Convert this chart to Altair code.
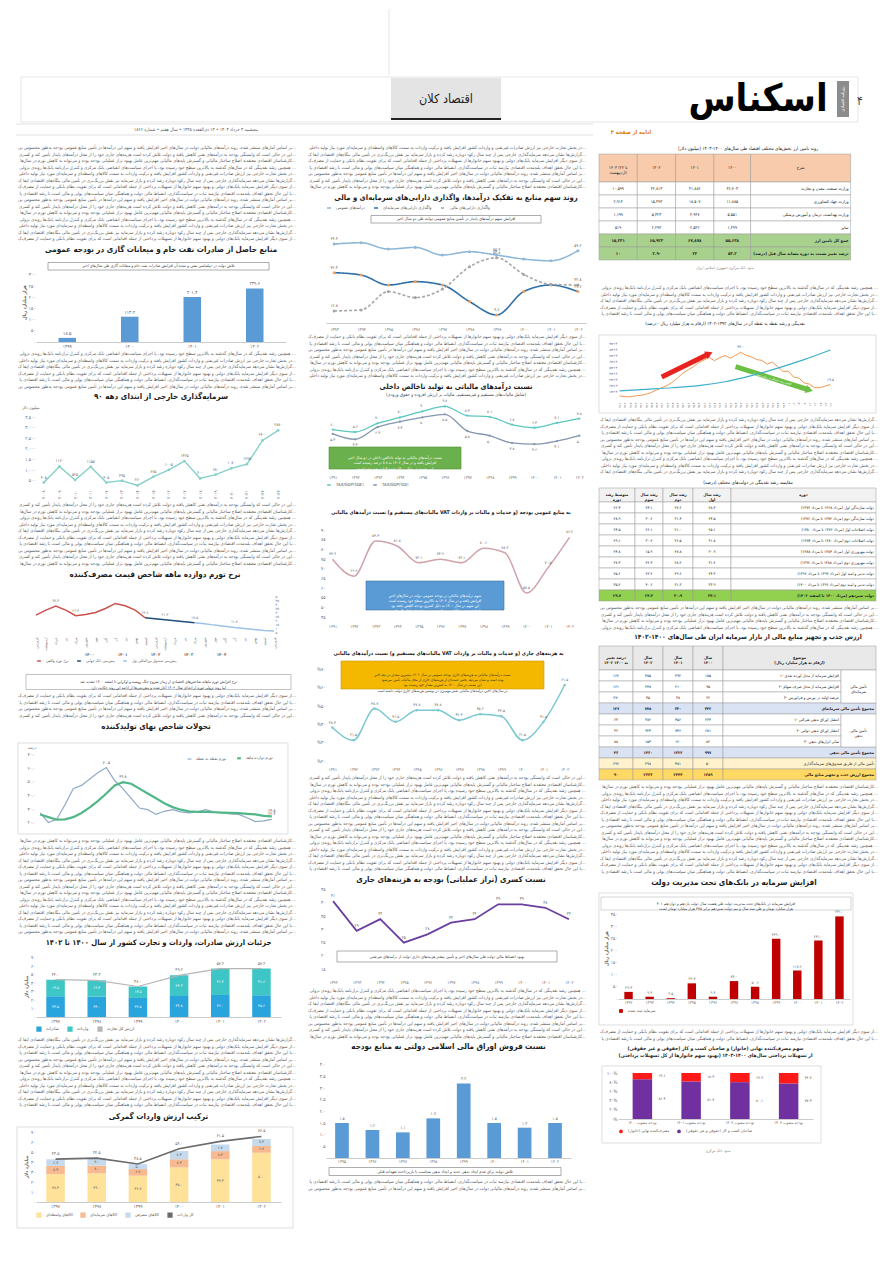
import altair as alt
import pandas as pd

FONT = "DejaVu Sans Condensed, DejaVu Sans"
COLW = 260
ONE = pd.DataFrame({"k": [0]})
_TR = str.maketrans("0123456789", "۰۱۲۳۴۵۶۷۸۹")
IND = dict(color="independent", fill="independent", strokeDash="independent", strokeWidth="independent")


def fa(v, d=None):
    if d is not None:
        v = f"{v:.{d}f}"
    return str(v).translate(_TR)


def fa_expr(e="datum.label"):
    s = e
    for a, b in zip("0123456789", "۰۱۲۳۴۵۶۷۸۹"):
        s = "replace(" + s + ", regexp('" + a + "', 'g'), '" + b + "')"
    return s


FAX = fa_expr()

# ---------------------------------------------------------------- data
FILLER = [
    "بر اساس آمارهای منتشر شده، روند درآمدهای مالیاتی دولت در سال‌های اخیر افزایش یافته و سهم این درآمدها در تأمین منابع عمومی بودجه به‌طور محسوس بیشتر شده است و این موضوع نشانه بهبود ساختار مالی دولت است",
    "این در حالی است که وابستگی بودجه به درآمدهای نفتی کاهش یافته و دولت تلاش کرده است هزینه‌های جاری خود را از محل درآمدهای پایدار تأمین کند و کسری بودجه را در سطحی قابل قبول مهار کند",
    "کارشناسان اقتصادی معتقدند اصلاح ساختار مالیاتی و گسترش پایه‌های مالیاتی مهم‌ترین عامل بهبود تراز عملیاتی بودجه بوده و می‌تواند به کاهش تورم در سال‌های آینده کمک کند و ثبات ایجاد کند",
    "همچنین رشد نقدینگی که در سال‌های گذشته به بالاترین سطح خود رسیده بود، با اجرای سیاست‌های انقباضی بانک مرکزی و کنترل ترازنامه بانک‌ها روندی نزولی به خود گرفته است",
    "در بخش تجارت خارجی نیز ارزش صادرات غیرنفتی و واردات کشور افزایش یافته و ترکیب واردات به سمت کالاهای واسطه‌ای و سرمایه‌ای مورد نیاز تولید داخلی تغییر کرده است",
    "گزارش‌ها نشان می‌دهد سرمایه‌گذاری خارجی پس از چند سال رکود دوباره رشد کرده و بازار سرمایه نیز نقش پررنگ‌تری در تأمین مالی بنگاه‌های اقتصادی ایفا کرده است",
    "از سوی دیگر افزایش سرمایه بانک‌های دولتی و بهبود سهم خانوارها از تسهیلات پرداختی از جمله اقداماتی است که برای تقویت نظام بانکی و حمایت از مصرف‌کننده نهایی انجام شده است",
    "با این حال تحقق اهداف بلندمدت اقتصادی نیازمند ثبات در سیاست‌گذاری، انضباط مالی دولت و هماهنگی میان سیاست‌های پولی و مالی است تا رشد اقتصادی پایدار حاصل شود",
]

l1_years = ["۱۳۹۹", "۱۴۰۰", "۱۴۰۱", "۱۴۰۲"]
l1_vals = [18.5, 113.2, 201.4, 239.6]

l2_years = ["۲۰۰۸", "۲۰۰۹", "۲۰۱۰", "۲۰۱۱", "۲۰۱۲", "۲۰۱۳", "۲۰۱۴", "۲۰۱۵",
            "۲۰۱۶", "۲۰۱۷", "۲۰۱۸", "۲۰۱۹", "۲۰۲۰", "۲۰۲۱", "۲۰۲۲", "۲۰۲۳"]
l2_vals = [405, 1170, 525, 1155, 405, 495, 270, 675, 1005, 1425, 600, 780, 1080, 1275, 2400, 2880]

l3_months = ["فروردین", "اردیبهشت", "خرداد", "تیر", "مرداد", "شهریور",
             "مهر", "آبان", "آذر", "دی", "بهمن", "اسفند"]
L3_S = ["نرخ تورم واقعی", "پیش‌بینی بانک جهانی", "پیش‌بینی صندوق بین‌المللی پول"]
l3_actual = [27.1, 33.3, 38.3, 33.3, 26.3, 27.9, 30.4, 35.4, 41.7, 38.8, 33.3, 23.8]
l3_wb = [23.8, 22.5, 21.3, 20.0, 18.8, 17.5]
l3_imf = [17.5, 16.3, 14.6, 13.3, 11.7, 10.4, 9.2, 7.9, 7.1]
_NB = "\u00a0" * 17
l3_year_row = _NB.join(["۱۴۰۰", "۱۴۰۱", "۱۴۰۲", "۱۴۰۳", "۱۴۰۴"])

L4_S = ["تورم نقطه به نقطه", "تورم دوازده ماهه"]
l4_p2p = [27.1, 20.0, 22.4, 33.1, 45.0, 47.4, 52.1, 56.9, 60.5, 51.0, 45.0, 37.9, 30.7, 29.5, 26.0,
          28.3, 29.5, 27.9, 27.1, 27.9, 29.5, 27.9, 27.1, 26.4, 26.0, 23.6, 20.7, 21.2, 22.4]
l4_avg = [26.0, 24.0, 22.1, 22.4, 24.0, 27.1, 31.2, 36.0, 41.4, 47.4, 49.8, 48.6, 45.0, 41.4, 37.9,
          34.3, 31.4, 29.5, 28.3, 27.9, 27.9, 27.6, 27.4, 27.1, 26.9, 26.4, 26.0, 25.0, 24.5]

L5_S = ["صادرات", "واردات", "ارزش کل تجارت"]
l5_years = ["۱۳۹۷", "۱۳۹۸", "۱۳۹۹", "۱۴۰۰", "۱۴۰۱", "۱۴۰۲"]
l5_exports = [24.5, 24.0, 22.5, 24.8, 26.0, 25.6]
l5_imports = [19.5, 19.3, 13.5, 24.4, 31.2, 31.6]

L6_S = ["کالاهای واسطه‌ای", "کالاهای سرمایه‌ای", "کالاهای مصرفی", "کل واردات"]
l6_years = ["۱۳۹۷", "۱۳۹۸", "۱۳۹۹", "۱۴۰۰", "۱۴۰۱", "۱۴۰۲"]
l6_inter = [28.3, 29.0, 26.7, 35.0, 43.3, 50.0]
l6_capital = [8.3, 8.0, 6.7, 8.3, 8.3, 6.7]
l6_consumer = [6.7, 7.0, 5.0, 8.3, 6.7, 7.3]
l6_total = [43.5, 44.5, 38.5, 54.0, 61.5, 66.5]

M1_S = ["درآمدهای عمومی", "واگذاری دارایی‌های سرمایه‌ای", "واگذاری دارایی‌های مالی"]
m1_years = ["۱۳۹۳", "۱۳۹۴", "۱۳۹۵", "۱۳۹۶", "۱۳۹۷", "۱۳۹۸", "۱۳۹۹", "۱۴۰۰", "۱۴۰۱", "۱۴۰۲"]
m1_rev = [64.4, 65.4, 60.5, 61.8, 55.9, 58.5, 55.9, 52.8, 51.5, 59.2]
m1_cap = [42.3, 40.5, 32.8, 35.4, 32.8, 20.0, 9.7, 27.7, 32.8, 27.7]
m1_fin = [12.8, 13.6, 27.7, 23.1, 29.7, 46.9, 53.8, 41.0, 33.3, 32.8]

M2_S = ["TAX/GDP(SDE)", "TAX/GDP(SDI)"]
m2_years = ["۱۳۹۱", "۱۳۹۲", "۱۳۹۳", "۱۳۹۴", "۱۳۹۵", "۱۳۹۶", "۱۳۹۷", "۱۳۹۸", "۱۳۹۹", "۱۴۰۰", "۱۴۰۱", "۱۴۰۲"]
m2_sde = [6.0, 5.6, 7.0, 8.0, 9.0, 9.8, 8.3, 8.1, 6.8, 6.3, 7.1, 7.8]
m2_sdi = [5.3, 4.4, 6.4, 7.3, 8.0, 8.5, 5.8, 5.0, 3.8, 3.6, 4.1, 5.0]

m3_years = m2_years
m3_vals = [74.9, 66.2, 84.4, 81.8, 73.1, 74.9, 73.1, 80.6, 78.3, 57.5, 70.5, 86.2]

m4_years = m2_years
m4_vals = [38.4, 31.5, 48.7, 41.5, 47.8, 47.8, 42.4, 45.6, 44.5, 31.5, 41.5, 61.5]

m5_years = ["۱۳۹۲", "۱۳۹۳", "۱۳۹۴", "۱۳۹۵", "۱۳۹۶", "۱۳۹۷", "۱۳۹۸", "۱۳۹۹", "۱۴۰۰", "۱۴۰۱", "۱۴۰۲"]
m5_vals = [40.6, 29.4, 33.8, 25.0, 28.1, 32.5, 33.8, 39.4, 39.4, 38.1, 33.8]

m6_years = ["۱۳۹۵", "۱۳۹۶", "۱۳۹۷", "۱۳۹۸", "۱۳۹۹", "۱۴۰۰", "۱۴۰۱", "۱۴۰۲"]
m6_vals = [1.5, 1.2, 1.1, 1.7, 3.2, 1.5, 1.3, 1.5]

r1_header = ["۱۴۰۳ (تا ۲۲\nاردیبهشت)", "۱۴۰۲", "۱۴۰۱", "۱۴۰۰", "شرح"]
r1_rows = ["وزارت صنعت، معدن و تجارت", "وزارت جهاد کشاورزی", "وزارت بهداشت، درمان و آموزش پزشکی",
           "سایر", "جمع کل تامین ارز", "درصد تغییر نسبت به دوره مشابه سال قبل (درصد)"]
r1_1400 = ["۳۶,۷۰۳", "۱۱,۸۸۵", "۵,۵۵۱", "۱,۴۹۹", "۵۵,۶۳۸", "۵۳.۲"]
r1_1401 = ["۴۱,۸۸۲", "۱۸,۵۰۷", "۴,۹۴۷", "۲,۵۴۲", "۶۷,۸۷۸", "۲۲"]
r1_1402 = ["۴۲,۸۱۳", "۱۵,۴۹۳", "۵,۳۲۳", "۲,۲۹۴", "۶۵,۹۲۳", "۲.۹-"]
r1_1403 = ["۱۰,۵۹۹", "۲,۹۱۴", "۱,۱۹۹", "۵۱۹", "۱۵,۲۳۱", "۱۰"]

r2_quarters = [fa(f"{y % 100}-{q}") for y in range(1392, 1403) for q in range(1, 5)][:41]
r2_growth = [11.6, 11.1, 10.9, 11.6, 12.0, 12.7, 13.9, 15.7, 17.3, 18.9, 21.1, 24.1, 27.5, 29.8, 32.0,
             34.8, 36.6, 38.5, 36.2, 38.4, 39.8, 38.0, 40.0, 42.0, 40.0, 38.9, 37.0, 36.4, 33.9, 35.2,
             32.0, 28.7, 28.9, 24.8, 24.1, 20.7, 19.8, 17.4, 17.3, 18.4, 19.5]
r2_liq_idx = [0, 5, 10, 15, 20, 25, 30, 35, 40]
r2_liq = [11200, 13700, 16300, 19800, 26400, 36600, 49300, 63600, 79800]
r2_red_idx = [8, 17]
r2_red_v = [24.8, 41.1]
r2_green_idx = [22, 36]
r2_green_v = [32.0, 15.7]

r3_header = ["متوسط رشد\nدوره", "رشد سال\nسوم", "رشد سال\nدوم", "رشد سال\nاول", "دوره"]
r3_rows = ["دولت سازندگی اول (مرداد ۱۳۶۸ تا مرداد ۱۳۷۲)", "دولت سازندگی دوم (مرداد ۱۳۷۲ تا مرداد ۱۳۷۶)",
           "دولت اصلاحات اول (مرداد ۱۳۷۶ تا مرداد ۱۳۸۰)", "دولت اصلاحات دوم (مرداد ۱۳۸۰ تا مرداد ۱۳۸۴)",
           "دولت مهرورزی اول (مرداد ۱۳۸۴ تا مرداد ۱۳۸۸)", "دولت مهرورزی دوم (مرداد ۱۳۸۸ تا مرداد ۱۳۹۲)",
           "دولت تدبیر و امید اول (مرداد ۱۳۹۲ تا مرداد ۱۳۹۶)", "دولت تدبیر و امید دوم (مرداد ۱۳۹۶ تا مرداد ۱۴۰۰)",
           "دولت سیزدهم (مرداد ۱۴۰۰ تا اسفند ۱۴۰۲)"]
r3_avg = [26.4, 28.9, 24.5, 29.1, 24.8, 27.3, 25.6, 35.2, 29.7]
r3_c3 = [24.1, 30.6, 26.1, 30.2, 15.9, 22.3, 23.2, 40.6, 24.3]
r3_c2 = [27.6, 31.4, 21.0, 26.5, 27.8, 28.2, 29.6, 31.3, 30.9]
r3_c1 = [28.3, 24.5, 25.1, 31.8, 30.9, 31.2, 24.3, 33.9, 34.1]

r4_header = ["درصد تغییر\n۱۴۰۲ به ۱۴۰۰", "سال\n۱۴۰۲", "سال\n۱۴۰۱", "سال\n۱۴۰۰", "موضوع\n(ارقام به هزار میلیارد ریال)"]
r4_rows = ["۱- افزایش سرمایه از محل آورده نقدی", "۲- افزایش سرمایه از محل صرف سهام", "۳- عرضه اولیه در بورس و فرابورس",
           "مجموع تأمین مالی سرمایه‌ای",
           "۱- انتشار اوراق بدهی شرکتی", "۲- انتشار اوراق بدهی دولتی", "۳- سایر ابزارهای بدهی",
           "مجموع تأمین مالی بدهی",
           "تأمین مالی از طریق صندوق‌های سرمایه‌گذاری", "مجموع ارزش جذب و تجهیز منابع مالی"]
r4_1400 = [185, 95, 62, 342, 234, 681, 82, 997, 50, 1389]
r4_1401 = [392, 210, 38, 640, 456, 746, 120, 1322, 481, 2443]
r4_1402 = [485, 248, 45, 778, 382, 924, 154, 1460, 398, 2636]
r4_chg = [162, 161, -27, 127, 63, 36, 88, 46, 696, 90]
r4_groups = ["تأمین مالی\nسرمایه‌ای", "تأمین مالی\nبدهی"]

r5_years = ["۱۳۹۲", "۱۳۹۳", "۱۳۹۴", "۱۳۹۵", "۱۳۹۶", "۱۳۹۷", "۱۳۹۸", "۱۳۹۹", "۱۴۰۰", "۱۴۰۱", "۱۴۰۲"]
r5_vals = [29.4, 9.4, 3.5, 64.7, 9.4, 74.0, 50.6, 249.0, 117.6, 241.0, 341.0]

R6_S = ["مصرف‌کننده نهایی (خانوار)", "صاحبان کسب و کار (حقوقی و غیر حقوقی)"]
r6_labels = ["بودجه مصوب ۱۴۰۰", "بودجه مصوب ۱۴۰۱", "بودجه مصوب ۱۴۰۲", "بودجه مصوب ۱۴۰۳"]
r6_household = [13.6, 18.3, 19.9, 22.7]
r6_business = [86.4, 81.7, 80.1, 77.3]


# ---------------------------------------------------------------- helpers
def T(text, size=8.0, sub=None, weight="bold", offset=3, limit=262):
    kw = dict(text=text, font=FONT, fontSize=size, fontWeight=weight, color="#1b1b1b",
              offset=offset, anchor="middle", limit=limit)
    if sub:
        kw.update(subtitle=sub, subtitleFont=FONT, subtitleFontSize=4.6,
                  subtitleColor="#444", subtitlePadding=1)
    return alt.TitleParams(**kw)


def box(x0, x1, y0, y1, text, fill="white", stroke="#777", color="#333", size=4.4, lh=5.6, weight="normal"):
    r = alt.Chart(ONE).mark_rect(fill=fill, stroke=stroke, strokeWidth=0.6).encode(
        x=alt.value(x0), x2=alt.value(x1), y=alt.value(y0), y2=alt.value(y1))
    t = alt.Chart(ONE).mark_text(font=FONT, fontSize=size, color=color, lineBreak="\n", lineHeight=lh,
                                 baseline="middle", fontWeight=weight, limit=abs(x1 - x0) - 2).encode(
        x=alt.value((x0 + x1) / 2), y=alt.value((y0 + y1) / 2), text=alt.value(text))
    return [r, t]


def frame(x0, x1, y0, y1, stroke="#d0d0d0"):
    return alt.Chart(ONE).mark_rect(fillOpacity=0, stroke=stroke, strokeWidth=0.7).encode(
        x=alt.value(x0), x2=alt.value(x1), y=alt.value(y0), y2=alt.value(y1))


def text_block(n, start=0, lh=6.5, size=4.6, color="#5a5a5a", w=COLW):
    df = pd.DataFrame({"i": list(range(n)), "t": [FILLER[(start + k) % len(FILLER)] for k in range(n)]})
    return alt.Chart(df).mark_text(align="right", baseline="middle", font=FONT, fontSize=size, color=color,
                                   limit=w + 18, ellipsis="").encode(
        x=alt.value(w),
        y=alt.Y("i:Q", scale=alt.Scale(domain=[-0.5, n - 0.5], reverse=True, nice=False, zero=False), axis=None),
        text="t:N").properties(width=w, height=n * lh)


def spacer(h, w=COLW):
    return alt.Chart(ONE).mark_point(opacity=0, size=1).encode(
        x=alt.value(0), y=alt.value(0)).properties(width=w, height=h)


def line_panel(text, h=7, size=4.5, color="#666", xv=120, w=COLW, weight="normal"):
    return alt.Chart(ONE).mark_text(font=FONT, fontSize=size, color=color, baseline="middle",
                                    fontWeight=weight).encode(
        x=alt.value(xv), y=alt.value(h / 2), text=alt.value(text)).properties(width=w, height=h)


def box_panel(text, h, x0, x1, w=COLW, **kw):
    return alt.layer(*box(x0, x1, 0.5, h - 0.5, text, **kw)).properties(width=w, height=h)


def make_table(cells, widths, heights, fsize=4.4, line="#9a9a9a", title=None, x_off=19, W=COLW):
    xs = [0]
    for w in widths:
        xs.append(xs[-1] + w)
    ys = [0]
    for h in heights:
        ys.append(ys[-1] + h)
    recs = []
    for (c0, c1, r0, r1, t, f, k, b) in cells:
        x0, x1, y0, y1 = xs[c0], xs[c1], ys[r0], ys[r1]
        recs.append(dict(x0=x0, x1=x1, y0=y0, y1=y1, xc=(x0 + x1) / 2, xr=x1 - 2, yc=(y0 + y1) / 2,
                         t=t, f=f, k=k, b=b))
    df = pd.DataFrame(recs)
    H = ys[-1]
    xsc = alt.Scale(domain=[x_off, x_off + W], nice=False, zero=False)
    ysc = alt.Scale(domain=[0, H], nice=False, zero=False, reverse=True)
    rect = alt.Chart(df).mark_rect(stroke=line, strokeWidth=0.5).encode(
        x=alt.X("x0:Q", scale=xsc, axis=None), x2="x1:Q",
        y=alt.Y("y0:Q", scale=ysc, axis=None), y2="y1:Q",
        fill=alt.Fill("f:N", scale=None))
    layers = [rect]
    for k, al, xf in (("n", "center", "xc"), ("d", "right", "xr")):
        for b in (False, True):
            sub = df[(df.k == k) & (df.b == b)]
            if len(sub) == 0:
                continue
            layers.append(alt.Chart(sub).mark_text(
                align=al, baseline="middle", font=FONT, fontSize=fsize,
                fontWeight="bold" if b else "normal", color="#222", lineBreak="\n", lineHeight=fsize + 1).encode(
                x=alt.X(xf + ":Q", scale=xsc, axis=None), y=alt.Y("yc:Q", scale=ysc, axis=None), text="t:N"))
    ch = alt.layer(*layers).properties(width=W, height=H)
    if title is not None:
        ch = ch.properties(title=title)
    return ch


# ---------------------------------------------------------------- header (x values: page x - 35)
def header():
    W, H = 830, 128
    c = alt.Chart(ONE)
    L = [
        c.mark_rule(color="#e4e4e4", strokeWidth=1).encode(x=alt.value(353), y=alt.value(0), y2=alt.value(66)),
        c.mark_rect(fillOpacity=0, stroke="#dedede", strokeWidth=0.8).encode(
            x=alt.value(-15), x2=alt.value(822), y=alt.value(68), y2=alt.value(113)),
        c.mark_rect(color="#e4e4e4").encode(x=alt.value(355), x2=alt.value(465), y=alt.value(69), y2=alt.value(110)),
        c.mark_rule(color="#222", strokeWidth=2).encode(x=alt.value(355), x2=alt.value(465), y=alt.value(110)),
        c.mark_text(font=FONT, fontSize=12.5, color="#222").encode(
            x=alt.value(410), y=alt.value(90), text=alt.value("اقتصاد کلان")),
        c.mark_text(font=FONT, fontSize=38, fontWeight="bold", color="#000").encode(
            x=alt.value(722), y=alt.value(91), text=alt.value("اسکناس")),
        c.mark_rect(color="#8c8c8c").encode(x=alt.value(801), x2=alt.value(813), y=alt.value(72), y2=alt.value(108)),
        c.mark_text(font=FONT, fontSize=4, color="white", angle=270).encode(
            x=alt.value(807), y=alt.value(90), text=alt.value("روزنامه اقتصادی")),
        c.mark_text(font=FONT, fontSize=12, color="#444").encode(
            x=alt.value(824), y=alt.value(92), text=alt.value("۴")),
        c.mark_rule(color="#cfcfcf", strokeWidth=0.6).encode(x=alt.value(-20), x2=alt.value(557), y=alt.value(115)),
        c.mark_rule(color="#cfcfcf", strokeWidth=0.6).encode(x=alt.value(-20), x2=alt.value(557), y=alt.value(126)),
        c.mark_text(font=FONT, fontSize=4.6, color="#555").encode(
            x=alt.value(160), y=alt.value(120.5),
            text=alt.value("پنجشنبه ۳ خرداد ۱۴۰۳  •  ۱۴ ذی‌القعده ۱۴۴۵  •  سال هفتم  •  شماره ۱۸۶۶")),
        c.mark_text(font=FONT, fontSize=5.6, fontWeight="bold", color="#e07b0a").encode(
            x=alt.value(595), y=alt.value(123), text=alt.value("ادامه از صفحه ۳")),
    ]
    return alt.layer(*L).properties(width=W, height=H)


# ---------------------------------------------------------------- left column charts
def chart_l1():
    W, H = 250, 80
    df = pd.DataFrame({"y": l1_years, "v": l1_vals, "lab": [fa(v, 1) for v in l1_vals]})
    x = alt.X("y:N", sort=None, title=None, scale=alt.Scale(paddingInner=0.72, paddingOuter=0.36),
              axis=alt.Axis(labelAngle=0, ticks=False, domainColor="#ccc"))
    ysc = alt.Scale(domain=[0, 358], nice=False)
    ax = alt.Axis(values=[0, 50, 100, 150, 200, 250, 300], labelExpr=FAX, domain=False, ticks=False)
    bars = alt.Chart(df).mark_bar(color="#5b9bd5").encode(
        x=x, y=alt.Y("v:Q", scale=ysc, axis=ax, title="هزار میلیارد ریال"))
    labs = alt.Chart(df).mark_text(dy=-4, font=FONT, fontSize=4.8, color="#555").encode(
        x=x, y=alt.Y("v:Q", scale=ysc, axis=ax, title="هزار میلیارد ریال"), text="lab:N")
    layers = [bars, labs] + box(12, 233, 0.5, 8, "تلاش دولت در دیپلماسی نفتی و نتیجه آن افزایش صادرات نفت خام و میعانات گازی طی سال‌های اخیر", size=4.0)
    return alt.layer(*layers).properties(
        width=W, height=H, title=T("منابع حاصل از صادرات نفت خام و میعانات گازی در بودجه عمومی", offset=8))


def chart_l2():
    W, H = 250, 76
    df = pd.DataFrame({"y": l2_years, "v": l2_vals, "lab": [fa(v) for v in l2_vals]})
    x = alt.X("y:N", sort=None, title=None, scale=alt.Scale(padding=0.5),
              axis=alt.Axis(labelAngle=270, ticks=False, domain=False, labelFontSize=4.3))
    ysc = alt.Scale(domain=[100, 3700], nice=False, zero=False)
    ax = alt.Axis(values=[500, 1000, 1500, 2000, 2500, 3000, 3500], labelExpr=FAX, domain=False, ticks=False)
    line = alt.Chart(df).mark_line(color="#86d0c8", strokeWidth=1.4,
                                   point=alt.OverlayMarkDef(color="#86d0c8", size=7, filled=True)).encode(
        x=x, y=alt.Y("v:Q", scale=ysc, axis=ax, title=None))
    labs = alt.Chart(df).mark_text(dy=-5, font=FONT, fontSize=4.2, color="#666").encode(
        x=x, y=alt.Y("v:Q", scale=ysc, axis=ax, title=None), text="lab:N")
    unit = alt.Chart(ONE).mark_text(font=FONT, fontSize=4.3, color="#666", align="left").encode(
        x=alt.value(-14), y=alt.value(-5), text=alt.value("میلیون دلار"))
    return alt.layer(line, labs, unit).properties(
        width=W, height=H, title=T("سرمایه‌گذاری خارجی از ابتدای دهه ۹۰", offset=5))


def chart_l3():
    W, H = 238, 40
    rows = []
    for i, v in enumerate(l3_actual):
        rows.append({"i": i, "v": v, "s": L3_S[0]})
    for k, v in enumerate(l3_wb):
        rows.append({"i": 11 + k, "v": v, "s": L3_S[1]})
    for k, v in enumerate(l3_imf):
        rows.append({"i": 16 + k, "v": v, "s": L3_S[2]})
    df = pd.DataFrame(rows)
    df["lab"] = df.v.map(lambda v: fa(v, 1))
    month_expr = "[" + ",".join("'" + m + "'" for m in l3_months) + "][datum.value % 12]"
    x = alt.X("i:Q", scale=alt.Scale(domain=[0, 24], nice=False),
              axis=alt.Axis(values=list(range(25)), labelExpr=month_expr, labelAngle=270, labelFontSize=3.6,
                            title=l3_year_row, titleFontSize=4.4, titlePadding=2, grid=False, ticks=False, domain=False))
    ysc = alt.Scale(domain=[1, 51], nice=False, zero=False)
    ax = alt.Axis(orient="right", values=list(range(5, 51, 5)), labelExpr=FAX, domain=False, ticks=False,
                  labelFontSize=3.6)
    col = alt.Color("s:N", scale=alt.Scale(domain=L3_S, range=["#c9504c", "#1f4e79", "#9dc3e6"]),
                    legend=alt.Legend(orient="bottom", title=None, symbolType="stroke", labelFontSize=3.8,
                                      symbolSize=14, direction="horizontal", offset=2, columnPadding=5))
    lines = alt.Chart(df).mark_line(strokeWidth=1.5).encode(
        x=x, y=alt.Y("v:Q", scale=ysc, axis=ax, title=None), color=col)
    sel = df[df.i.isin([2, 4, 11, 13, 16, 20])].drop_duplicates("i")
    labs = alt.Chart(sel).mark_text(dy=-5, font=FONT, fontSize=3.8, color="#666").encode(
        x=x, y=alt.Y("v:Q", scale=ysc, axis=ax, title=None), text="lab:N")
    return alt.layer(lines, labs).properties(
        width=W, height=H, title=T("نرخ تورم دوازده ماهه شاخص قیمت مصرف‌کننده", offset=16))


def chart_l4():
    W, H = 240, 76
    n = len(l4_p2p)
    df = pd.DataFrame({"i": list(range(n)) * 2, "v": l4_p2p + l4_avg, "s": [L4_S[0]] * n + [L4_S[1]] * n})
    df["lab"] = df.v.map(lambda v: fa(v, 1))
    x = alt.X("i:Q", scale=alt.Scale(domain=[-0.5, n - 0.5], nice=False), axis=None)
    ysc = alt.Scale(domain=[16, 72], nice=False, zero=False)
    ax = alt.Axis(values=[20, 30, 40, 50, 60, 70], format=".1f", labelExpr=FAX, ticks=False, domain=False,
                  grid=False)
    col = alt.Color("s:N", scale=alt.Scale(domain=L4_S, range=["#8fa9c6", "#52b788"]),
                    legend=alt.Legend(orient="top-right", title=None, symbolType="stroke", labelFontSize=4.2,
                                      direction="horizontal", symbolSize=14, offset=3))
    sw = alt.StrokeWidth("s:N", scale=alt.Scale(domain=L4_S, range=[1.2, 2.2]), legend=None)
    lines = alt.Chart(df).mark_line().encode(
        x=x, y=alt.Y("v:Q", scale=ysc, axis=ax, title=None), color=col, strokeWidth=sw)
    sel = pd.concat([df[(df.s == L4_S[0]) & df.i.isin([8, 28])], df[(df.s == L4_S[1]) & df.i.isin([10, 28])]])
    labs = alt.Chart(sel).mark_text(dy=-5, font=FONT, fontSize=4.2, color="#555").encode(
        x=x, y=alt.Y("v:Q", scale=ysc, axis=ax, title=None), text="lab:N")
    unit = alt.Chart(ONE).mark_text(font=FONT, fontSize=4.2, color="#666").encode(
        x=alt.value(-4), y=alt.value(-4), text=alt.value("درصد"))
    return alt.layer(frame(-18, W + 12, -9, H + 6), lines, labs, unit).properties(
        width=W, height=H, title=T("تحولات شاخص بهای تولیدکننده", offset=12))


def chart_l5():
    W, H = 245, 61
    rows = []
    for yr, e, m in zip(l5_years, l5_exports, l5_imports):
        rows.append(dict(y=yr, s=L5_S[0], v=e, o=0, mid=e / 2, t=fa(e, 1)))
        rows.append(dict(y=yr, s=L5_S[1], v=m, o=1, mid=e + m / 2, t=fa(m, 1)))
    df = pd.DataFrame(rows)
    tot = pd.DataFrame({"y": l5_years, "v": [e + m for e, m in zip(l5_exports, l5_imports)], "s": L5_S[2]})
    tot["t"] = tot.v.map(lambda v: fa(v, 1))
    x = alt.X("y:N", sort=None, title=None, scale=alt.Scale(paddingInner=0.55, paddingOuter=0.25),
              axis=alt.Axis(labelAngle=0, ticks=False, domainColor="#ccc"))
    ysc = alt.Scale(domain=[0, 72], nice=False)
    ax = alt.Axis(values=list(range(0, 71, 10)), labelExpr=FAX, ticks=False, domain=False)
    tt = "میلیارد دلار"
    col = alt.Color("s:N", scale=alt.Scale(domain=L5_S, range=["#2aa4dc", "#3ec5c6", "#b5b5b5"]),
                    legend=alt.Legend(orient="bottom", title=None, labelFontSize=4.3, symbolSize=14,
                                      direction="horizontal", offset=3))
    bars = alt.Chart(df).mark_bar().encode(
        x=x, y=alt.Y("v:Q", stack="zero", scale=ysc, axis=ax, title=tt), color=col, order=alt.Order("o:Q"))
    segt = alt.Chart(df).mark_text(font=FONT, fontSize=4.0, color="white").encode(
        x=x, y=alt.Y("mid:Q", scale=ysc, axis=ax, title=tt), text="t:N")
    line = alt.Chart(tot).mark_line(strokeWidth=1.2).encode(
        x=x, y=alt.Y("v:Q", scale=ysc, axis=ax, title=tt), color=col)
    tott = alt.Chart(tot).mark_text(font=FONT, fontSize=4.4, color="#555", dy=-5).encode(
        x=x, y=alt.Y("v:Q", scale=ysc, axis=ax, title=tt), text="t:N")
    return alt.layer(bars, segt, line, tott).properties(
        width=W, height=H, title=T("جزئیات ارزش صادرات، واردات و تجارت کشور از سال ۱۴۰۰ تا ۱۴۰۲", size=7.6, offset=8))


def chart_l6():
    W, H = 245, 71
    rows = []
    for yr, a, b, c in zip(l6_years, l6_inter, l6_capital, l6_consumer):
        rows.append(dict(y=yr, s=L6_S[0], v=a, o=0, mid=a / 2, t=fa(a, 1)))
        rows.append(dict(y=yr, s=L6_S[1], v=b, o=1, mid=a + b / 2, t=fa(b, 1)))
        rows.append(dict(y=yr, s=L6_S[2], v=c, o=2, mid=a + b + c / 2, t=fa(c, 1)))
    df = pd.DataFrame(rows)
    tot = pd.DataFrame({"y": l6_years, "v": l6_total, "s": L6_S[3]})
    tot["t"] = tot.v.map(lambda v: fa(v, 1))
    x = alt.X("y:N", sort=None, title=None, scale=alt.Scale(paddingInner=0.55, paddingOuter=0.25),
              axis=alt.Axis(labelAngle=0, ticks=False, domainColor="#ccc"))
    ysc = alt.Scale(domain=[0, 72], nice=False)
    ax = alt.Axis(values=list(range(0, 71, 10)), labelExpr=FAX, ticks=False, domain=False)
    tt = "میلیارد دلار"
    col = alt.Color("s:N", scale=alt.Scale(domain=L6_S, range=["#ffe29a", "#f7b98f", "#c6daee", "#6b6b6b"]),
                    legend=alt.Legend(orient="bottom", title=None, labelFontSize=4.1, symbolSize=14,
                                      direction="horizontal", offset=4, columnPadding=5))
    bars = alt.Chart(df).mark_bar().encode(
        x=x, y=alt.Y("v:Q", stack="zero", scale=ysc, axis=ax, title=tt), color=col, order=alt.Order("o:Q"))
    segt = alt.Chart(df).mark_text(font=FONT, fontSize=4.0, color="#555").encode(
        x=x, y=alt.Y("mid:Q", scale=ysc, axis=ax, title=tt), text="t:N")
    line = alt.Chart(tot).mark_line(strokeWidth=1.6).encode(
        x=x, y=alt.Y("v:Q", scale=ysc, axis=ax, title=tt), color=col)
    tott = alt.Chart(tot).mark_text(font=FONT, fontSize=4.4, color="#555", dy=-5).encode(
        x=x, y=alt.Y("v:Q", scale=ysc, axis=ax, title=tt), text="t:N")
    return alt.layer(frame(-19, W + 12, -4, H + 26), bars, segt, line, tott).properties(
        width=W, height=H, title=T("ترکیب ارزش واردات گمرکی", offset=6))


# ---------------------------------------------------------------- middle column charts
def chart_m1():
    W, H = 260, 108
    df = pd.DataFrame({"year": m1_years * 3, "v": m1_rev + m1_cap + m1_fin,
                       "s": [M1_S[0]] * 10 + [M1_S[1]] * 10 + [M1_S[2]] * 10})
    df["lab"] = df.v.map(lambda v: fa(v, 1))
    x = alt.X("year:N", sort=None, title=None, scale=alt.Scale(padding=0.3),
              axis=alt.Axis(labelAngle=0, ticks=False, domainColor="#c8c8c8", labelFontSize=4.4, labelPadding=4))
    y = alt.Y("v:Q", scale=alt.Scale(domain=[3.5, 86.8], nice=False, zero=False), axis=None)
    col = alt.Color("s:N", scale=alt.Scale(domain=M1_S, range=["#8fb8d8", "#2f6fa8", "#a6a6a6"]),
                    legend=alt.Legend(orient="top", title=None, symbolType="stroke", direction="horizontal",
                                      labelFontSize=4.4, symbolSize=16, offset=4))
    dash = alt.StrokeDash("s:N", scale=alt.Scale(domain=M1_S, range=[[1, 0], [1, 0], [3, 2]]), legend=None)
    lines = alt.Chart(df).mark_line(strokeWidth=1.6, interpolate="monotone").encode(
        x=x, y=y, color=col, strokeDash=dash)
    pts = alt.Chart(df).mark_point(filled=True, size=9, opacity=1).encode(
        x=x, y=y, fill=alt.Fill("s:N", scale=alt.Scale(domain=M1_S, range=["#8fb8d8", "#f0a060", "#a6a6a6"]),
                                legend=None))
    sel = df[df.year.isin([m1_years[0], m1_years[6], m1_years[9]])]
    labs = alt.Chart(sel).mark_text(dy=-5, font=FONT, fontSize=4.2, color="#555").encode(x=x, y=y, text="lab:N")
    layers = [lines, pts, labs] + box(45, 215, 0.5, 8, "افزایش سهم درآمدهای پایدار در تأمین منابع عمومی دولت طی دو سال اخیر", size=4.2)
    return alt.layer(*layers).properties(
        width=W, height=H, title=T("روند سهم منابع به تفکیک درآمدها، واگذاری دارایی‌های سرمایه‌ای و مالی", size=7.6, limit=270))


def chart_m2():
    W, H = 260, 70
    df = pd.DataFrame({"year": m2_years * 2, "v": m2_sde + m2_sdi, "s": [M2_S[0]] * 12 + [M2_S[1]] * 12})
    df["lab"] = df.v.map(lambda v: fa(v, 1))
    x = alt.X("year:N", sort=None, title=None, scale=alt.Scale(padding=0.3),
              axis=alt.Axis(labelAngle=0, ticks=False, domain=False, labelFontSize=4.3))
    y = alt.Y("v:Q", scale=alt.Scale(domain=[-1.3, 10.2], nice=False, zero=False), axis=None)
    col = alt.Color("s:N", scale=alt.Scale(domain=M2_S, range=["#5cc6c0", "#8496b0"]),
                    legend=alt.Legend(orient="bottom", title=None, symbolType="stroke", direction="horizontal",
                                      labelFontSize=4.3, symbolSize=14, offset=2))
    lines = alt.Chart(df).mark_line(strokeWidth=1.3, interpolate="monotone",
                                    point=alt.OverlayMarkDef(size=5, filled=True)).encode(x=x, y=y, color=col)
    lab1 = alt.Chart(df[df.s == M2_S[0]]).mark_text(dy=-5, font=FONT, fontSize=4.0, color="#555").encode(
        x=x, y=y, text="lab:N")
    lab2 = alt.Chart(df[df.s == M2_S[1]]).mark_text(dy=6, font=FONT, fontSize=4.0, color="#555").encode(
        x=x, y=y, text="lab:N")
    layers = [lines, lab1, lab2] + box(
        3, 135, 43, 65,
        "نسبت درآمدهای مالیاتی به تولید ناخالص داخلی در دو سال اخیر\nافزایش یافته و در سال ۱۴۰۲ به ۷.۸ درصد رسیده است\nاین نسبت در سال ۱۴۰۰ حدود ۶.۳ درصد بوده است",
        fill="#6ab04c", stroke="#4f8f35", color="white", size=4.0, lh=5.4)
    return alt.layer(*layers).properties(
        width=W, height=H, title=T("نسبت درآمدهای مالیاتی به تولید ناخالص داخلی", size=7.4,
                                   sub="(شامل مالیات‌های مستقیم و غیرمستقیم، مالیات بر ارزش افزوده و حقوق ورودی)"))


def chart_m3():
    W, H = 250, 96
    df = pd.DataFrame({"year": m3_years, "v": m3_vals, "lab": [fa(v, 1) for v in m3_vals]})
    x = alt.X("year:N", sort=None, title=None, scale=alt.Scale(padding=0.3),
              axis=alt.Axis(labelAngle=0, ticks=False, domain=False, labelFontSize=4.3))
    ysc = alt.Scale(domain=[42.0, 91.6], nice=False, zero=False)
    ax = alt.Axis(values=list(range(45, 91, 5)), labelExpr=FAX, ticks=False, domain=False)
    line = alt.Chart(df).mark_line(color="#cfa3aa", strokeWidth=1.5, interpolate="monotone").encode(
        x=x, y=alt.Y("v:Q", scale=ysc, axis=ax, title=None))
    labs = alt.Chart(df).mark_text(dy=-5, font=FONT, fontSize=4.1, color="#666").encode(
        x=x, y=alt.Y("v:Q", scale=ysc, axis=ax, title=None), text="lab:N")
    layers = [line, labs] + box(
        40, 178, 54, 83,
        "سهم درآمدهای مالیاتی در بودجه عمومی دولت در سال‌های اخیر\nافزایش یافته و در سال ۱۴۰۲ به بالاترین سطح خود رسیده است\nاین سهم در سال ۱۴۰۰ به دلیل کسری بودجه کاهش یافته بود\nافزایش سهم مالیات در منابع عمومی نشانه انضباط مالی است",
        fill="#5b9bd5", stroke="#41719c", color="white", size=3.9, lh=5.2)
    return alt.layer(*layers).properties(
        width=W, height=H,
        title=T("نسبت درآمدهای مالیاتی (مالیات‌های مستقیم و VAT و خدمات و مالیات بر واردات) به منابع عمومی بودجه",
                size=5.2, offset=12))


def chart_m4():
    W, H = 245, 106
    df = pd.DataFrame({"year": m4_years, "v": m4_vals, "lab": [fa(v, 1) for v in m4_vals]})
    x = alt.X("year:N", sort=None, title=None, scale=alt.Scale(padding=0.3),
              axis=alt.Axis(labelAngle=0, ticks=False, domain=False, labelFontSize=4.3))
    ysc = alt.Scale(domain=[17.5, 75.1], nice=False, zero=False)
    ax = alt.Axis(values=list(range(20, 71, 10)), labelExpr=fa_expr("'%' + datum.label"), ticks=False, domain=False)
    line = alt.Chart(df).mark_line(color="#7cc8d0", strokeWidth=1.5, interpolate="monotone",
                                   point=alt.OverlayMarkDef(color="#7cc8d0", size=6, filled=True)).encode(
        x=x, y=alt.Y("v:Q", scale=ysc, axis=ax, title=None))
    labs = alt.Chart(df).mark_text(dy=-5, font=FONT, fontSize=4.1, color="#666").encode(
        x=x, y=alt.Y("v:Q", scale=ysc, axis=ax, title=None), text="lab:N")
    layers = [line, labs] + box(
        15, 218, 1, 29,
        "نسبت درآمدهای مالیاتی به هزینه‌های جاری بودجه عمومی در سال ۱۴۰۲ بیشترین مقدار در دهه اخیر\nبوده است و نشان می‌دهد بخش عمده‌ای از هزینه‌های جاری از محل مالیات تأمین می‌شود\nاین نسبت در سال ۱۴۰۰ به کمترین مقدار خود رسیده بود\nدر سال‌های اخیر، درآمدهای مالیاتی نقش مهم‌تری در پوشش هزینه‌های جاری دولت داشته است",
        fill="#f5b800", stroke="#c99700", color="#333", size=3.7, lh=5.2)
    return alt.layer(*layers).properties(
        width=W, height=H,
        title=T("نسبت درآمدهای مالیاتی (مالیات‌های مستقیم و VAT و خدمات و مالیات بر واردات) به هزینه‌های جاری",
                size=5.2, offset=4))


def chart_m5():
    W, H = 250, 93
    df = pd.DataFrame({"year": m5_years, "v": m5_vals, "lab": [fa(round(v)) for v in m5_vals]})
    x = alt.X("year:N", sort=None, title=None, scale=alt.Scale(padding=0.3),
              axis=alt.Axis(labelAngle=0, ticks=False, domain=False, labelFontSize=4.3))
    ysc = alt.Scale(domain=[11.3, 46.3], nice=False, zero=False)
    ax = alt.Axis(values=list(range(15, 46, 5)), labelExpr=FAX, ticks=False, domain=False)
    line = alt.Chart(df).mark_line(color="#6b3fa0", strokeWidth=1.8).encode(
        x=x, y=alt.Y("v:Q", scale=ysc, axis=ax, title=None))
    labs = alt.Chart(df).mark_text(dy=-5, font=FONT, fontSize=4.3, color="#555").encode(
        x=x, y=alt.Y("v:Q", scale=ysc, axis=ax, title=None), text="lab:N")
    layers = [line, labs] + box(
        11, 231, 65, 76, "بهبود انضباط مالی دولت طی سال‌های اخیر و تأمین بیشتر هزینه‌های جاری دولت از درآمدهای غیرنفتی",
        size=4.1)
    return alt.layer(*layers).properties(
        width=W, height=H, title=T("نسبت کسری (تراز عملیاتی) بودجه به هزینه‌های جاری", offset=2))


def chart_m6():
    W, H = 245, 97
    df = pd.DataFrame({"year": m6_years, "v": m6_vals, "lab": [fa(v, 1) for v in m6_vals]})
    x = alt.X("year:N", sort=None, title=None, scale=alt.Scale(paddingInner=0.55, paddingOuter=0.3),
              axis=alt.Axis(labelAngle=0, ticks=False, domainColor="#ccc", labelFontSize=4.3))
    ysc = alt.Scale(domain=[0, 4.16], nice=False)
    ax = alt.Axis(values=[0.5, 1, 1.5, 2, 2.5, 3, 3.5, 4], labelExpr=FAX, ticks=False, domain=False)
    bars = alt.Chart(df).mark_bar(color="#5b9bd5").encode(x=x, y=alt.Y("v:Q", scale=ysc, axis=ax, title=None))
    labs = alt.Chart(df).mark_text(dy=-4, font=FONT, fontSize=4.3, color="#666").encode(
        x=x, y=alt.Y("v:Q", scale=ysc, axis=ax, title=None), text="lab:N")
    return alt.layer(bars, labs).properties(
        width=W, height=H, title=T("نسبت فروش اوراق مالی اسلامی دولتی به منابع بودجه", offset=10))


# ---------------------------------------------------------------- right column charts
def table_r1():
    widths = [38.3, 38.3, 38.3, 36.7, 100]
    heights = [28] + [13] * 6
    cells = []
    for c, h in enumerate(r1_header):
        cells.append((c, c + 1, 0, 1, h, "#f8cbad", "n", False))
    for r in range(6):
        fill = "#a9d18e" if r >= 4 else "white"
        vals = [r1_1403[r], r1_1402[r], r1_1401[r], r1_1400[r]]
        for c, v in enumerate(vals):
            cells.append((c, c + 1, r + 1, r + 2, v, fill, "n", r >= 4))
        cells.append((4, 5, r + 1, r + 2, r1_rows[r], fill, "d", r >= 4))
    return make_table(cells, widths, heights, fsize=4.3,
                      title=T("روند تامین ارز بخش‌های مختلف اقتصاد طی سال‌های ۱۴۰۰-۱۴۰۳ (میلیون دلار)", size=4.8,
                              weight="normal", offset=3, limit=250))


def chart_r2():
    W, H = 214, 60
    q = r2_quarters
    dfo = pd.DataFrame({"q": q, "v": r2_growth})
    dfb = pd.DataFrame({"q": [q[i] for i in r2_liq_idx], "v": r2_liq})
    x = alt.X("q:O", sort=q, title=None, scale=alt.Scale(padding=0.3),
              axis=alt.Axis(labelAngle=270, labelFontSize=3.1, ticks=False, domain=False, labelPadding=1))
    yo = alt.Y("v:Q", scale=alt.Scale(domain=[8, 50], nice=False, zero=False), title=None,
               axis=alt.Axis(orient="right", values=list(range(10, 51, 5)), labelExpr=FAX, domain=False,
                             ticks=False, labelFontSize=4.0))
    yn = alt.Y("v:Q", scale=alt.Scale(domain=[8, 50], nice=False, zero=False), axis=None)
    orange = alt.Chart(dfo).mark_line(color="#f08c3c", strokeWidth=0.9).encode(x=x, y=yo)
    dfr = pd.DataFrame({"q": [q[i] for i in r2_red_idx], "v": r2_red_v})
    dfg = pd.DataFrame({"q": [q[i] for i in r2_green_idx], "v": r2_green_v})
    red = alt.Chart(dfr).mark_line(color="#e8231f", strokeWidth=5, strokeCap="butt").encode(x=x, y=yn)
    redh = alt.Chart(dfr.iloc[[1]]).mark_point(shape="triangle-right", filled=True, size=70, angle=335,
                                               color="#e8231f", opacity=1).encode(x=x, y=yn)
    grn = alt.Chart(dfg).mark_line(color="#6cbf45", strokeWidth=5, strokeCap="butt").encode(x=x, y=yn)
    grnh = alt.Chart(dfg.iloc[[1]]).mark_point(shape="triangle-right", filled=True, size=70, angle=16,
                                               color="#6cbf45", opacity=1).encode(x=x, y=yn)
    gtxt = alt.Chart(pd.DataFrame({"q": [q[29]], "v": [23.9], "t": ["کاهش رشد نقدینگی در دولت سیزدهم"]})).mark_text(
        font=FONT, fontSize=2.8, color="white", angle=16).encode(x=x, y=yn, text="t:N")
    pk = dfo.iloc[[23, 40]].copy()
    pk["t"] = pk.v.map(lambda v: fa(v, 1))
    pkl = alt.Chart(pk).mark_text(dy=-5, font=FONT, fontSize=4.0, color="#555").encode(x=x, y=yn, text="t:N")
    inner = alt.layer(frame(-19, W + 44, -6, H + 12), orange, red, redh, grn, grnh, gtxt, pkl)
    yb = alt.Y("v:Q", scale=alt.Scale(domain=[-6000, 95000], nice=False, zero=False), title=None,
               axis=alt.Axis(orient="left", values=list(range(0, 90001, 10000)), format=",", labelExpr=FAX,
                             domain=False, ticks=False, labelFontSize=3.6))
    blue = alt.Chart(dfb).mark_line(color="#3bb0c9", strokeWidth=1.2, interpolate="monotone").encode(x=x, y=yb)
    return alt.layer(inner, blue).resolve_scale(y="independent").properties(
        width=W, height=H,
        title=T("نقدینگی و رشد نقطه به نقطه آن در سال‌های ۱۳۹۲-۱۴۰۲ (ارقام به هزار میلیارد ریال - درصد)",
                size=4.6, weight="normal", offset=9, limit=220))


def table_r3():
    widths = [36, 28, 30, 38, 145]
    heights = [14] + [11] * 9
    cells = []
    for c, h in enumerate(r3_header):
        cells.append((c, c + 1, 0, 1, h, "#f2f2f2", "n", True))
    for r in range(9):
        last = r == 8
        fill = "#92d050" if last else "white"
        vals = [r3_avg[r], r3_c3[r], r3_c2[r], r3_c1[r]]
        for c, v in enumerate(vals):
            cells.append((c, c + 1, r + 1, r + 2, fa(v, 1), fill, "n", last))
        cells.append((4, 5, r + 1, r + 2, r3_rows[r], fill, "d", last))
    return make_table(cells, widths, heights, fsize=4.1,
                      title=T("مقایسه رشد نقدینگی در دولت‌های مختلف (درصد)", size=4.8, weight="normal", offset=3))


def table_r4():
    widths = [34, 30, 30, 30, 118, 35]
    heights = [24] + [11] * 10
    cells = []
    for c in range(4):
        cells.append((c, c + 1, 0, 1, r4_header[c], "#e9e9e9", "n", True))
    cells.append((4, 6, 0, 1, r4_header[4], "#e9e9e9", "n", True))
    for r in range(10):
        sub = r in (3, 7)
        fill = "#dae3f3" if sub else ("#fff2cc" if r == 8 else ("#ffd966" if r == 9 else "white"))
        bold = sub or r == 9
        vals = [fa(r4_chg[r]) if r4_chg[r] >= 0 else fa(-r4_chg[r]) + "-", fa(r4_1402[r]), fa(r4_1401[r]),
                fa(r4_1400[r])]
        for c, v in enumerate(vals):
            cells.append((c, c + 1, r + 1, r + 2, v, fill, "n", bold))
        if r in (0, 1, 2, 4, 5, 6):
            cells.append((4, 5, r + 1, r + 2, r4_rows[r], fill, "d", False))
        else:
            cells.append((4, 6, r + 1, r + 2, r4_rows[r], fill, "d", bold))
    cells.append((5, 6, 1, 4, r4_groups[0], "white", "n", False))
    cells.append((5, 6, 5, 8, r4_groups[1], "white", "n", False))
    return make_table(cells, widths, heights, fsize=4.1,
                      title=T("ارزش جذب و تجهیز منابع مالی از بازار سرمایه ایران طی سال‌های ۱۴۰۰-۱۴۰۲", size=6.6,
                              offset=5, limit=255))


def chart_r5():
    W, H = 232, 102
    df = pd.DataFrame({"y": r5_years, "v": r5_vals, "lab": [fa(v, 1) for v in r5_vals], "s": "سرمایه ثبت شده"})
    x = alt.X("y:N", sort=None, title=None, scale=alt.Scale(paddingInner=0.6, paddingOuter=0.3),
              axis=alt.Axis(labelAngle=0, ticks=False, domainColor="#ccc", labelFontSize=4.2))
    ysc = alt.Scale(domain=[0, 421], nice=False)
    ax = alt.Axis(values=list(range(0, 351, 50)), labelExpr=FAX, ticks=False, domain=False)
    tt = "هزار میلیارد ریال"
    bars = alt.Chart(df).mark_bar().encode(
        x=x, y=alt.Y("v:Q", scale=ysc, axis=ax, title=tt),
        color=alt.Color("s:N", scale=alt.Scale(range=["#c00000"]),
                        legend=alt.Legend(orient="bottom", title=None, labelFontSize=4.3, symbolSize=14, offset=3)))
    labs = alt.Chart(df).mark_text(dy=-4, font=FONT, fontSize=4.1, color="#666").encode(
        x=x, y=alt.Y("v:Q", scale=ysc, axis=ax, title=tt), text="lab:N")
    layers = [frame(-19, W + 3, -4, H + 26), bars, labs] + box(
        -17, 233, 0, 13,
        "افزایش سرمایه در بانک‌های تحت مدیریت دولت طی هشت سال دولت یازدهم و دوازدهم ۴۰۱\nهزار میلیارد تومان و طی سه سال و نیم دولت سیزدهم برابر ۳۷۵ هزار میلیارد تومان است",
        size=4.0, lh=5.2, stroke="#bbb")
    return alt.layer(*layers).properties(
        width=W, height=H, title=T("افزایش سرمایه در بانک‌های تحت مدیریت دولت", offset=6, limit=230))


def chart_r6():
    W, H = 195, 46
    rows = []
    for lab, hh, bz in zip(r6_labels, r6_household, r6_business):
        rows.append(dict(x=lab, s=R6_S[1], v=bz / 100, o=0, mid=bz / 200, t=fa(bz, 1)))
        rows.append(dict(x=lab, s=R6_S[0], v=hh / 100, o=1, mid=(bz + hh / 2) / 100, t=fa(hh, 1)))
    df = pd.DataFrame(rows)
    x = alt.X("x:N", sort=None, title=None, scale=alt.Scale(paddingInner=0.6, paddingOuter=0.3),
              axis=alt.Axis(labelAngle=0, ticks=False, domainColor="#ccc", labelFontSize=4.0))
    ysc = alt.Scale(domain=[0, 1], nice=False)
    ax = alt.Axis(values=[0, 0.2, 0.4, 0.6, 0.8, 1], format=".0%", labelExpr=FAX, ticks=False, domain=False)
    col = alt.Color("s:N", scale=alt.Scale(domain=R6_S, range=["#ff1a1a", "#7030a0"]),
                    legend=alt.Legend(orient="bottom", title=None, labelFontSize=4.1, symbolSize=14,
                                      direction="horizontal", offset=4, symbolType="circle"))
    bars = alt.Chart(df).mark_bar().encode(
        x=x, y=alt.Y("v:Q", stack="zero", scale=ysc, axis=ax, title=None), color=col, order=alt.Order("o:Q"))
    labs = alt.Chart(df).mark_text(dx=16, align="left", font=FONT, fontSize=4.0, color="#555").encode(
        x=x, y=alt.Y("mid:Q", scale=ysc, axis=ax, title=None), text="t:N")
    return alt.layer(frame(-16, W + 8, -7, H + 24), bars, labs).properties(
        width=W, height=H,
        title=T(["سهم مصرف‌کننده نهایی (خانوار) و صاحبان کسب و کار (حقوقی و غیر حقوقی)",
                 "از تسهیلات پرداختی سال‌های ۱۴۰۰-۱۴۰۳ (بهبود سهم خانوارها از کل تسهیلات پرداختی)"],
                size=5.0, offset=8, limit=250))


# ---------------------------------------------------------------- columns
RL = dict(color="independent", fill="independent", strokeDash="independent", strokeWidth="independent")

colL = alt.vconcat(
    spacer(4),
    text_block(15, start=0),
    chart_l1(),
    text_block(6, start=3),
    chart_l2(),
    text_block(10, start=1),
    chart_l3(),
    spacer(3),
    box_panel("نرخ افزایش تورم ماهانه شاخص‌های اقتصادی از زمان شروع جنگ روسیه و اوکراین تا اسفند ۱۴۰۰ تشدید شد\nاما روند نزولی تورم از ابتدای سال ۱۴۰۲ آغاز شده و پیش‌بینی‌ها از ادامه این روند حکایت دارد", 16, -10, 255, size=3.9, lh=5.6, stroke="#999"),
    text_block(4, start=6),
    chart_l4(),
    text_block(15, start=2),
    chart_l5(),
    text_block(11, start=5),
    chart_l6(),
    spacing=3,
).resolve_scale(**IND).resolve_legend(**RL)

colM = alt.vconcat(
    spacer(4),
    text_block(7, start=4),
    chart_m1(),
    text_block(7, start=6),
    chart_m2(),
    spacer(14),
    chart_m3(),
    spacer(14),
    chart_m4(),
    text_block(15, start=1),
    chart_m5(),
    text_block(8, start=3),
    chart_m6(),
    box_panel("تلاش دولت برای عدم ایجاد بدهی جدید و ایجاد بدهی متناسب با بازپرداخت تعهدات قبلی", 9, 3, 235, size=4.2),
    text_block(2, start=7),
    spacing=3,
).resolve_scale(**IND).resolve_legend(**RL)

colR = alt.vconcat(
    spacer(4),
    table_r1(),
    line_panel("منبع: بانک مرکزی جمهوری اسلامی ایران", h=8, size=3.8, color="#888", xv=107),
    spacer(6),
    text_block(5, start=3),
    chart_r2(),
    text_block(9, start=5),
    table_r3(),
    text_block(4, start=0),
    table_r4(),
    text_block(14, start=2),
    chart_r5(),
    text_block(2, start=6),
    chart_r6(),
    line_panel("منبع: بانک مرکزی", h=8, size=3.8, color="#888", xv=100),
    spacing=3,
).resolve_scale(**IND).resolve_legend(**RL)

page = alt.vconcat(
    header(),
    alt.hconcat(colL, colM, colR, spacing=12).resolve_scale(**IND).resolve_legend(**RL),
    spacing=0,
).resolve_scale(**IND).resolve_legend(**RL).properties(
    padding={"left": 7, "top": 0, "right": 0, "bottom": 6},
    background="white",
).configure_view(stroke=None).configure_axis(
    labelFont=FONT, titleFont=FONT, labelFontSize=4.6, titleFontSize=4.6, labelColor="#666", titleColor="#666",
    domainColor="#c8c8c8", tickColor="#c8c8c8", grid=False, labelPadding=1, titlePadding=2,
).configure_legend(
    labelFont=FONT, labelColor="#555", padding=0, rowPadding=1, columnPadding=6, labelLimit=200,
).configure_text(font=FONT)

page.save("out.html", embed_options={"renderer": "svg", "actions": False})
